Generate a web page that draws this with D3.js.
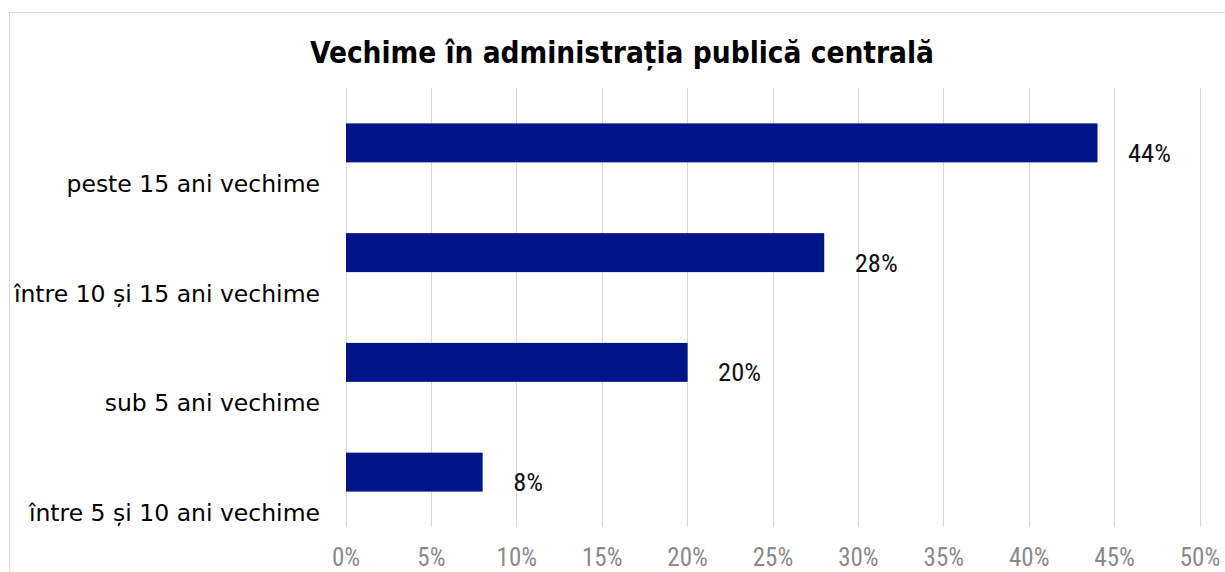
<!DOCTYPE html>
<html>
<head>
<meta charset="utf-8">
<script src="https://cdn.jsdelivr.net/npm/d3@7"></script>
<style>
  html, body { margin: 0; padding: 0; background: #fff; }
  svg { display: block; }
</style>
</head>
<body>
<svg id="chart" width="1225" height="572"></svg>
<script>
// Seniority in central public administration (share of respondents)
const title = "Vechime în administrația publică centrală";
const categories = [
  "peste 15 ani vechime",
  "între 10 și 15 ani vechime",
  "sub 5 ani vechime",
  "între 5 și 10 ani vechime"
];
const values = [44, 28, 20, 8];
const tickValues = [0, 5, 10, 15, 20, 25, 30, 35, 40, 45, 50];

const svg = d3.select("#chart");
const W = 1225, H = 572;
const plot = { left: 345.5, right: 1199.5, top: 88, bottom: 527 };
const narrowFont = "'Roboto Condensed', 'DejaVu Sans', sans-serif";

const x = d3.scaleLinear().domain([0, 50]).range([plot.left, plot.right]);
const y = d3.scaleBand()
  .domain(categories)
  .range([plot.top, plot.bottom])
  .paddingInner(0.645)
  .paddingOuter(0.3225);

// chart frame
svg.append("rect")
  .attr("x", 9.5).attr("y", 12.5)
  .attr("width", W + 20).attr("height", H + 20)
  .attr("fill", "none").attr("stroke", "#d9d9d9").attr("stroke-width", 1);

// title
svg.append("text")
  .attr("x", 622).attr("y", 63)
  .attr("text-anchor", "middle")
  .style("font-family", "'DejaVu Sans', sans-serif")
  .style("font-stretch", "condensed")
  .style("font-weight", "bold")
  .style("font-size", "29.5px")
  .attr("fill", "#000")
  .text(title);

// vertical gridlines
svg.append("g")
  .selectAll("line")
  .data(tickValues)
  .join("line")
  .attr("x1", d => Math.round(x(d)) + 0.5)
  .attr("x2", d => Math.round(x(d)) + 0.5)
  .attr("y1", plot.top).attr("y2", plot.bottom)
  .attr("stroke", "#d9d9d9").attr("stroke-width", 1);

// bottom axis labels
const xAxis = d3.axisBottom(x)
  .tickValues(tickValues)
  .tickFormat(d => d + "%")
  .tickSize(0)
  .tickPadding(0);
const gx = svg.append("g")
  .attr("transform", `translate(0,${plot.bottom})`)
  .call(xAxis);
gx.select(".domain").remove();
gx.selectAll("text")
  .attr("dy", null)
  .attr("y", 39)
  .style("font-family", narrowFont)
  .style("font-weight", "400")
  .style("font-size", "25px")
  .attr("fill", "#8a8a8a");

// category labels
const yAxis = d3.axisLeft(y).tickSize(0).tickPadding(0);
const gy = svg.append("g")
  .attr("transform", "translate(320,0)")
  .call(yAxis);
gy.select(".domain").remove();
gy.selectAll("text")
  .attr("dy", null)
  .attr("y", 49)
  .style("font-family", "'DejaVu Sans', sans-serif")
  .style("font-size", "23.5px")
  .attr("fill", "#000");

// bars
svg.append("g")
  .selectAll("rect")
  .data(values)
  .join("rect")
  .attr("x", x(0) + 0.5)
  .attr("y", (d, i) => y(categories[i]))
  .attr("width", d => x(d) - x(0))
  .attr("height", y.bandwidth())
  .attr("fill", "#00148a");

// value labels
svg.append("g")
  .selectAll("text")
  .data(values)
  .join("text")
  .attr("x", d => x(d) + 31)
  .attr("y", (d, i) => y(categories[i]) + y.bandwidth() / 2 + 19)
  .style("font-family", narrowFont)
  .style("font-weight", "400")
  .style("font-size", "26.5px")
  .attr("fill", "#111")
  .text(d => d + "%");
</script>
</body>
</html>
